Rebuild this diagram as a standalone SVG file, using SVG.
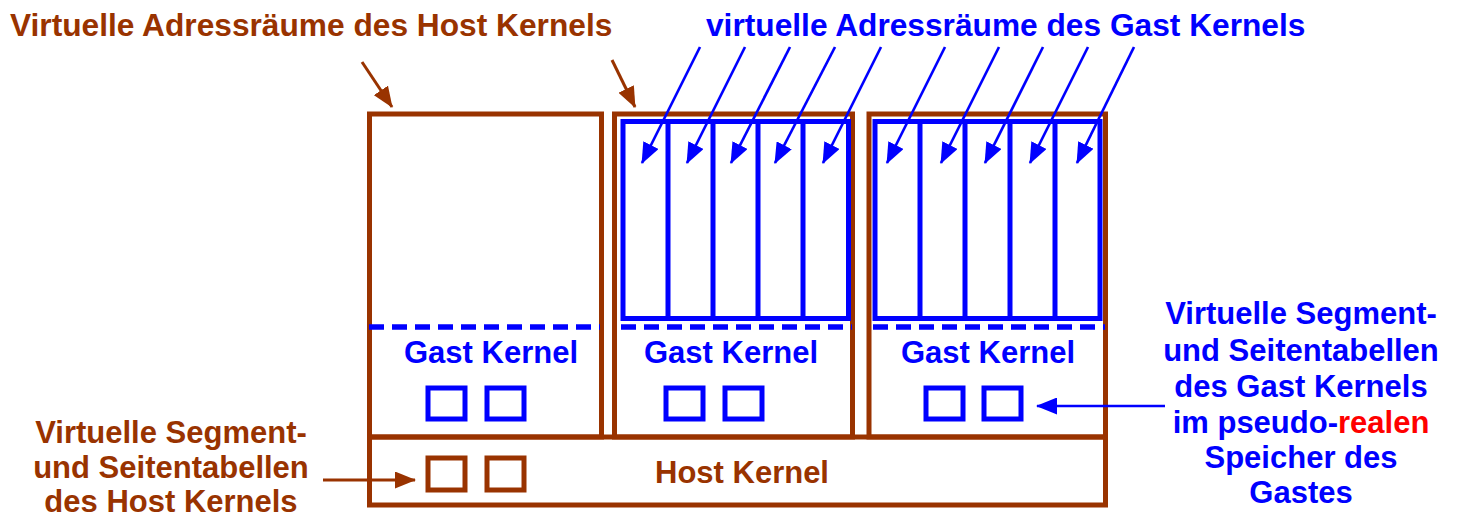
<svg xmlns="http://www.w3.org/2000/svg" width="1459" height="518" viewBox="0 0 1459 518">
<style>
text{font-family:"Liberation Sans",Arial,sans-serif;font-weight:bold;font-size:31px}
.ttl{font-size:31.7px}
.br{fill:#993300}
.bl{fill:#0000ff}
.rd{fill:#ff0000}
.box{fill:none;stroke:#993300;stroke-width:5}
.grid{fill:none;stroke:#0000ff;stroke-width:5}
.sq{fill:none;stroke:#0000ff;stroke-width:5}
.hsq{fill:none;stroke:#993300;stroke-width:5}
.dash{fill:none;stroke:#0000ff;stroke-width:5.5;stroke-dasharray:15 8}
.ab{stroke:#0000ff;stroke-width:2.7;fill:none;marker-end:url(#mb)}
.ar{stroke:#993300;stroke-width:3;fill:none;marker-end:url(#mr)}
</style>
<defs>
<marker id="mb" viewBox="0 0 21 17" refX="20" refY="8.5" markerWidth="21" markerHeight="17" markerUnits="userSpaceOnUse" orient="auto"><path d="M0,0 L21,8.5 L0,17 z" fill="#0000ff"/></marker>
<marker id="mr" viewBox="0 0 21 17" refX="20" refY="8.5" markerWidth="21" markerHeight="17" markerUnits="userSpaceOnUse" orient="auto"><path d="M0,0 L21,8.5 L0,17 z" fill="#993300"/></marker>
</defs>

<g id="title-host"><text class="br ttl" x="10" y="36">Virtuelle Adressräume des Host Kernels</text></g>
<g id="title-guest"><text class="bl ttl" x="706" y="36">virtuelle Adressräume des Gast Kernels</text></g>

<g id="vm1">
<rect class="box" x="369.5" y="114" width="232" height="323"/>
<line class="dash" x1="369" y1="327" x2="600" y2="327"/>
<text class="bl" x="491" y="363" text-anchor="middle">Gast Kernel</text>
<rect class="sq" x="428" y="388" width="37" height="31"/>
<rect class="sq" x="487" y="388" width="37" height="31"/>
</g>

<g id="vm2">
<rect class="box" x="614.5" y="114" width="238" height="323"/>
<rect class="grid" x="623" y="121.5" width="225.5" height="197"/>
<line class="grid" x1="668" y1="121" x2="668" y2="318"/>
<line class="grid" x1="713" y1="121" x2="713" y2="318"/>
<line class="grid" x1="758" y1="121" x2="758" y2="318"/>
<line class="grid" x1="803" y1="121" x2="803" y2="318"/>
<line class="dash" x1="621" y1="327" x2="852" y2="327"/>
<text class="bl" x="731" y="363" text-anchor="middle">Gast Kernel</text>
<rect class="sq" x="666" y="388" width="37" height="31"/>
<rect class="sq" x="725" y="388" width="37" height="31"/>
</g>

<g id="vm3">
<rect class="box" x="869" y="114" width="236.5" height="323"/>
<rect class="grid" x="875" y="121.5" width="225" height="197"/>
<line class="grid" x1="920" y1="121" x2="920" y2="318"/>
<line class="grid" x1="965" y1="121" x2="965" y2="318"/>
<line class="grid" x1="1010" y1="121" x2="1010" y2="318"/>
<line class="grid" x1="1055" y1="121" x2="1055" y2="318"/>
<line class="dash" x1="873" y1="327" x2="1105" y2="327"/>
<text class="bl" x="988" y="363" text-anchor="middle">Gast Kernel</text>
<rect class="sq" x="926" y="388" width="37" height="31"/>
<rect class="sq" x="984" y="388" width="37" height="31"/>
</g>

<g id="host">
<rect class="box" x="369.5" y="437" width="736" height="68"/>
<rect class="hsq" x="428" y="458" width="37" height="32"/>
<rect class="hsq" x="487" y="458" width="37" height="32"/>
<text class="br" x="742" y="483" text-anchor="middle">Host Kernel</text>
</g>

<g id="label-guest-tables">
<text class="bl" x="1301" y="324" text-anchor="middle">Virtuelle Segment-</text>
<text class="bl" x="1301" y="361" text-anchor="middle">und Seitentabellen</text>
<text class="bl" x="1301" y="397" text-anchor="middle">des Gast Kernels</text>
<text class="bl" x="1301" y="433" text-anchor="middle">im pseudo-<tspan class="rd">realen</tspan></text>
<text class="bl" x="1301" y="468" text-anchor="middle">Speicher des</text>
<text class="bl" x="1301" y="503" text-anchor="middle">Gastes</text>
</g>

<g id="label-host-tables">
<text class="br" x="171" y="443" text-anchor="middle">Virtuelle Segment-</text>
<text class="br" x="171" y="478" text-anchor="middle">und Seitentabellen</text>
<text class="br" x="171" y="512" text-anchor="middle">des Host Kernels</text>
</g>

<g id="connectors">
<line class="ar" x1="362" y1="62" x2="392" y2="107"/>
<line class="ar" x1="612" y1="60" x2="635" y2="107"/>
<line class="ab" x1="700" y1="47" x2="642" y2="163"/>
<line class="ab" x1="745" y1="47" x2="687" y2="163"/>
<line class="ab" x1="790" y1="47" x2="731" y2="163"/>
<line class="ab" x1="835" y1="47" x2="775" y2="163"/>
<line class="ab" x1="881" y1="47" x2="823" y2="163"/>
<line class="ab" x1="945" y1="47" x2="887" y2="163"/>
<line class="ab" x1="999" y1="47" x2="941" y2="163"/>
<line class="ab" x1="1043" y1="47" x2="985" y2="163"/>
<line class="ab" x1="1088" y1="47" x2="1030" y2="163"/>
<line class="ab" x1="1134" y1="47" x2="1077" y2="163"/>
<line class="ab" x1="1165" y1="406" x2="1037" y2="406"/>
<line class="ar" x1="323" y1="480" x2="415" y2="480"/>
</g>
</svg>
